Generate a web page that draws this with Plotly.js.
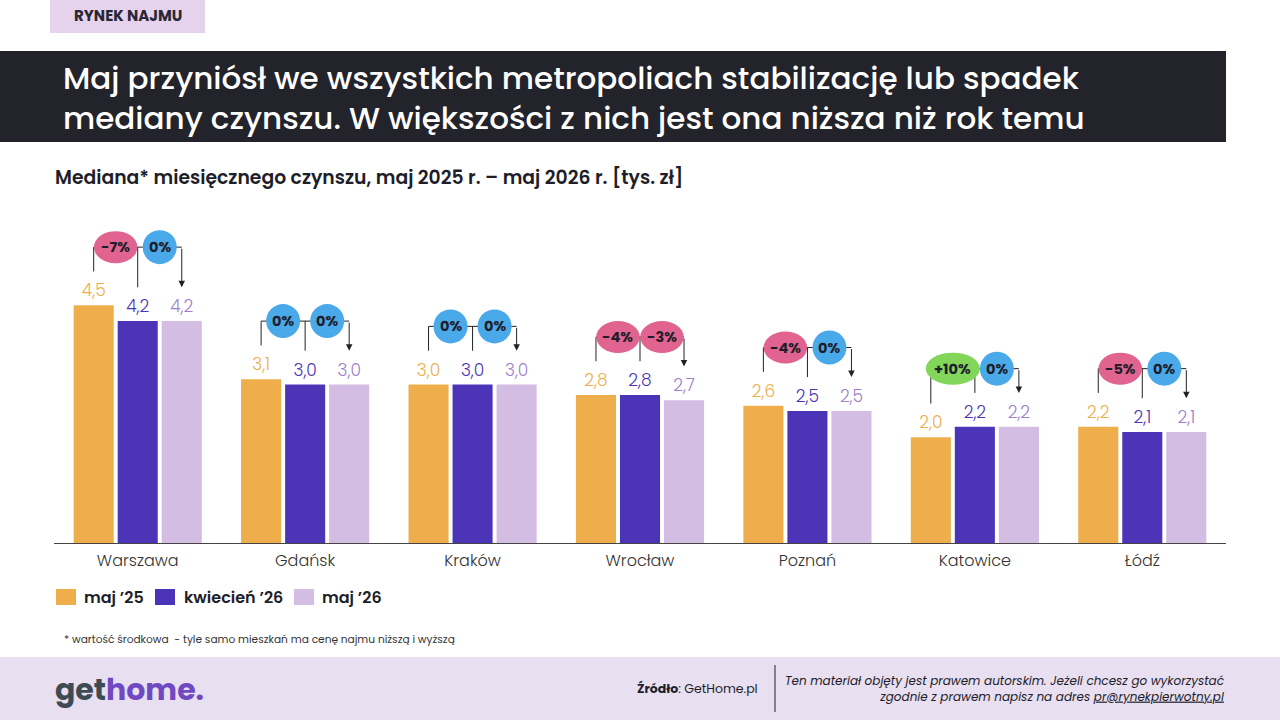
<!DOCTYPE html>
<html>
<head>
<meta charset="utf-8">
<script src="https://cdn.plot.ly/plotly-3.0.1.min.js"></script>
<style>
html,body{margin:0;padding:0;background:#fff;}
#chart{width:1280px;height:720px;}
</style>
</head>
<body>
<div id="chart"></div>
<script>
// ---- data ----
const categories = ['Warszawa','Gdańsk','Kraków','Wrocław','Poznań','Katowice','Łódź'];
const seriesNames = ['maj ’25','kwiecień ’26','maj ’26'];
const maj25 = [4.5, 3.1, 3.0, 2.8, 2.6, 2.0, 2.2];
const kwi26 = [4.2, 3.0, 3.0, 2.8, 2.5, 2.2, 2.1];
const maj26 = [4.2, 3.0, 3.0, 2.7, 2.5, 2.2, 2.1];
const changeYoY = ['-7%','0%','0%','-4%','-4%','+10%','-5%'];
const changeMoM = ['0%','0%','0%','-3%','0%','0%','0%'];

// ---- style ----
const FONT = 'Poppins, "Noto Sans", "Open Sans", sans-serif';
const barColors = ['#EDAE4B','#4B35B6','#D3BDE3'];
const labelColors = ['#EDAE4B','#4B35B6','#9E80CC'];
const PL = 54, PR = 1226, PT = 226, PB = 543;
const px = x => (x - PL) / (PR - PL);
const py = y => (PB - y) / (PB - PT);
const BARGAP = 0.211;
const slot = (1 - BARGAP) / 3;

const fmt = v => v.toFixed(1).replace('.', ',');
const allSeries = [maj25, kwi26, maj26];

const traces = allSeries.map((vals, k) => ({
  type: 'bar',
  name: seriesNames[k],
  x: categories,
  y: vals,
  marker: {color: barColors[k]},
  text: vals.map(fmt),
  texttemplate: '%{text}',
  textposition: 'outside',
  textfont: {family: FONT, size: 17, color: labelColors[k], weight: 300},
  cliponaxis: false,
  constraintext: 'none',
  showlegend: false,
  hoverinfo: 'skip'
}));

const shapes = [];
const annotations = [];

function bubbleColor(lbl){
  if (lbl.startsWith('-')) return '#E0648F';
  if (lbl.startsWith('+')) return '#82D65A';
  return '#4AA9E9';
}

function note(x, y, text, font, xanchor){
  annotations.push({xref:'paper', yref:'paper', x:px(x), y:py(y), xanchor: xanchor || 'left', yanchor:'middle',
    align: xanchor === 'right' ? 'right' : (xanchor === 'center' ? 'center' : 'left'),
    text:text, showarrow:false, font:font});
}

categories.forEach((c, i) => {
  const vals = [maj25[i], kwi26[i], maj26[i]];
  const xs = [i - slot, i, i + slot];
  const yb = Math.max(...vals) + 1.1;
  const lineCol = '#222';
  shapes.push({type:'line', xref:'x', yref:'y', x0: xs[0], x1: xs[2], y0: yb, y1: yb, line:{color:lineCol, width:1}});
  shapes.push({type:'line', xref:'x', yref:'y', x0: xs[0], x1: xs[0], y0: yb, y1: vals[0] + 0.64, line:{color:lineCol, width:1}});
  shapes.push({type:'line', xref:'x', yref:'y', x0: xs[1], x1: xs[1], y0: yb, y1: vals[1] + 0.64, line:{color:lineCol, width:1}});
  annotations.push({xref:'x', yref:'y', axref:'x', ayref:'y', x: xs[2], y: vals[2] + 0.64, ax: xs[2], ay: yb,
    text:'', showarrow:true, arrowhead:2, arrowsize:1.3, arrowwidth:1, arrowcolor:lineCol, standoff:0});
  [[changeYoY[i], (xs[0]+xs[1])/2], [changeMoM[i], (xs[1]+xs[2])/2]].forEach(([lbl, bx]) => {
    const w = lbl === '0%' ? 34 : 12 + 10.5 * lbl.length;
    const h = lbl === '0%' ? 34 : 32;
    shapes.push({type:'circle', xref:'x', yref:'y', xsizemode:'pixel', ysizemode:'pixel',
      xanchor: bx, yanchor: yb, x0: -w/2, x1: w/2, y0: -h/2, y1: h/2,
      fillcolor: bubbleColor(lbl), line:{width:0}});
    annotations.push({xref:'x', yref:'y', x: bx, y: yb, xanchor:'center', yanchor:'middle', text: lbl, showarrow:false,
      font:{family:FONT, size:14.5, color:'#1E1E2A', weight:700}});
  });
});

// ---- custom legend ----
const legendSwatchX = [56, 155, 294];
const legendTextX = [82, 182, 320];
seriesNames.forEach((n, k) => {
  shapes.push({type:'rect', xref:'paper', yref:'paper', x0:px(legendSwatchX[k]), x1:px(legendSwatchX[k] + 20),
    y0:py(605), y1:py(589), fillcolor:barColors[k], line:{width:0}});
  note(legendTextX[k], 597, n, {family:FONT, size:16, color:'#1E1E2A', weight:600});
});

// ---- page decorations ----
shapes.push({type:'rect', xref:'paper', yref:'paper', x0:px(50), x1:px(205), y0:py(33), y1:py(0), fillcolor:'#E5D3EE', line:{width:0}, layer:'below'});
note(128, 16, 'RYNEK NAJMU', {family:FONT, size:15, color:'#2A2735', weight:700}, 'center');
shapes.push({type:'rect', xref:'paper', yref:'paper', x0:px(0), x1:px(1226), y0:py(142), y1:py(51), fillcolor:'#22232B', line:{width:0}, layer:'below'});
note(61, 97.5, 'Maj przyniósł we wszystkich metropoliach stabilizację lub spadek<br>mediany czynszu. W większości z nich jest ona niższa niż rok temu',
  {family:FONT, size:31, color:'#FFFFFF', weight:500});
note(53, 177, 'Mediana* miesięcznego czynszu, maj 2025 r. – maj 2026 r. [tys. zł]', {family:FONT, size:18.8, color:'#1E1E2A', weight:600});
note(62, 639, '* wartość środkowa  - tyle samo mieszkań ma cenę najmu niższą i wyższą', {family:FONT, size:10.6, color:'#333'});
shapes.push({type:'rect', xref:'paper', yref:'paper', x0:px(0), x1:px(1280), y0:py(720), y1:py(657), fillcolor:'#E8DFF1', line:{width:0}, layer:'below'});
note(53, 689, '<span style="color:#3D4B55">get</span><span style="color:#7048C2">home.</span>', {family:FONT, size:30, color:'#3D4B55', weight:700});
note(760, 688, '<b>Źródło</b>: GetHome.pl', {family:FONT, size:12.5, color:'#1E1E2A'}, 'right');
shapes.push({type:'line', xref:'paper', yref:'paper', x0:px(775), x1:px(775), y0:py(665), y1:py(712), line:{color:'#222', width:1}});
note(1226, 688, '<i>Ten materiał objęty jest prawem autorskim. Jeżeli chcesz go wykorzystać</i><br><i>zgodnie z prawem napisz na adres <u>pr@rynekpierwotny.pl</u></i>',
  {family:FONT, size:12, color:'#1E1E2A'}, 'right');

const layout = {
  width: 1280, height: 720,
  margin: {l: PL, r: 1280 - PR, t: PT, b: 720 - PB, pad: 0},
  paper_bgcolor: '#FFFFFF', plot_bgcolor: '#FFFFFF',
  barmode: 'group', bargap: BARGAP, bargroupgap: 0.09,
  font: {family: FONT, color: '#333'},
  xaxis: {type:'category', showgrid:false, showline:true, linecolor:'#444', linewidth:1,
    ticks:'', ticklabelstandoff: 3, tickfont:{family:FONT, size:16, color:'#333', weight:300}, fixedrange:true},
  yaxis: {range:[0, 6], visible:false, showgrid:false, zeroline:false, fixedrange:true},
  showlegend: false,
  shapes: shapes,
  annotations: annotations
};

Plotly.newPlot('chart', traces, layout, {displayModeBar:false, staticPlot:true});
</script>
</body>
</html>
